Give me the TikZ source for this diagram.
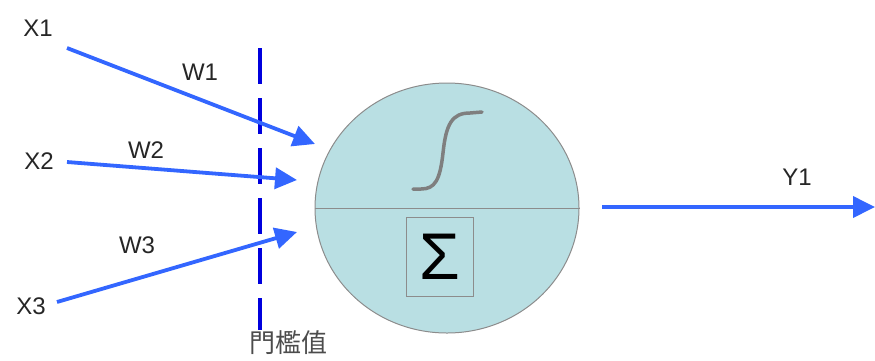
\documentclass[tikz,border=0pt]{standalone}
\usepackage{fontspec}
\setmainfont{Liberation Sans}
\newfontfamily\cjk{Noto Sans CJK TC}
\usetikzlibrary{arrows.meta,positioning,shapes.geometric}
\definecolor{wireblue}{HTML}{3366FF}
\definecolor{threshblue}{HTML}{0000DD}
\definecolor{cellfill}{HTML}{B9DFE3}
\definecolor{rimgray}{HTML}{8C8C8C}
\definecolor{curvegray}{HTML}{7F7F7F}
\tikzset{
  cell/.style={ellipse, draw=rimgray, line width=1pt, fill=cellfill, minimum width=264pt, minimum height=250pt, inner sep=0pt},
  sumbox/.style={rectangle, draw=rimgray, line width=0.8pt, minimum width=67pt, minimum height=79pt, inner sep=0pt, font=\fontsize{66}{70}\selectfont},
  lbl/.style={font=\fontsize{24}{28}\selectfont, inner sep=0pt, text=black!85},
  arrow/.style={-{Triangle[length=22pt,width=21pt]}, line width=3.8pt, draw=wireblue},
  threshold/.style={draw=threshblue, line width=4pt, dash pattern=on 36pt off 14pt}
}
\begin{document}
\begin{tikzpicture}[x=1pt,y=-1pt]
  \useasboundingbox (0,0) rectangle (875,360);
  % neuron body
  \node[cell] (cell) at (447,208) {};
  \draw[rimgray, line width=1pt] (cell.west) -- (cell.east);
  \node[sumbox] (sum) at (440,257) {Σ};
  \draw[curvegray, line width=3.5pt, line cap=round] (413,189) -- (421,189)
    .. controls (435,189) and (440,180) .. (443,153)
    .. controls (446,124) and (452,113) .. (470,113) -- (482,112);
  % threshold
  \coordinate (thrtop) at (260,48);
  \coordinate (thrbot) at (260,330);
  \draw[threshold] (thrtop) -- (thrbot);
  \node[lbl, font=\cjk\fontsize{26}{28}\selectfont, text=black!70] (thrlbl) at (288,343) {門檻值};
  % inputs
  \node[lbl] (x1) at (38,28) {X1};
  \node[lbl] (x2) at (39,161) {X2};
  \node[lbl] (x3) at (31,306) {X3};
  \node[lbl] (w1) at (200,72) {W1};
  \node[lbl] (w2) at (146,150) {W2};
  \node[lbl] (w3) at (137,245) {W3};
  \coordinate (in1) at (67,48);
  \coordinate (in2) at (67,162);
  \coordinate (in3) at (57,302);
  \coordinate (tip1) at (315,144);
  \coordinate (tip2) at (297,180);
  \coordinate (tip3) at (297,232);
  \draw[arrow] (in1) -- (tip1);
  \draw[arrow] (in2) -- (tip2);
  \draw[arrow] (in3) -- (tip3);
  % output
  \node[lbl] (y1) at (797,177) {Y1};
  \coordinate (out) at (602,207);
  \coordinate (outtip) at (875,207);
  \draw[arrow] (out) -- (outtip);
\end{tikzpicture}
\end{document}
